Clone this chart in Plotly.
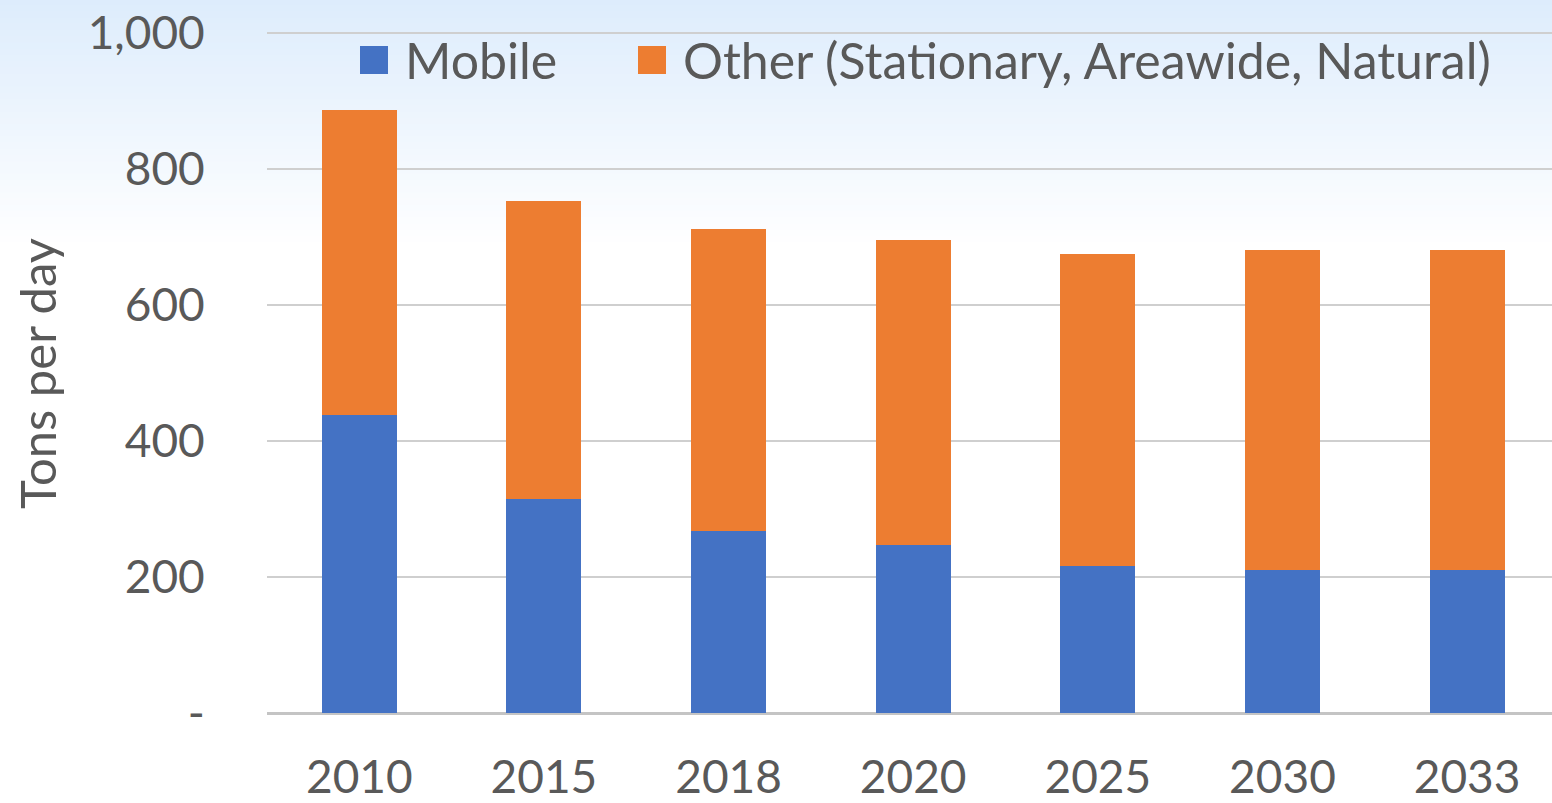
import plotly.graph_objects as go

years = ["2010", "2015", "2018", "2020", "2025", "2030", "2033"]
mobile = [438, 315, 268, 247, 216, 211, 210]
other = [449, 438, 444, 449, 460, 470, 471]
series_names = ["Mobile", "Other (Stationary, Areawide, Natural)"]
series_colors = ["#4472C4", "#ED7D31"]
y_tickvals = [0, 200, 400, 600, 800, 1000]
y_ticktext = ["-", "200", "400", "600", "800", "1,000"]

W, H = 1552, 803
ML, MR, MT, MB = 267, 0, 32, 90
TXT = "#595959"
FONT = "Lato"
plot_h = H - MT - MB
plot_w = W - ML - MR


def px_x(p):
    return (p - ML) / plot_w


def px_y(p):
    return (H - MB - p) / plot_h


fig = go.Figure()
fig.add_trace(go.Bar(x=years, y=mobile, name=series_names[0], showlegend=False,
                     marker=dict(color=series_colors[0], line=dict(width=0))))
fig.add_trace(go.Bar(x=years, y=other, name=series_names[1], showlegend=False,
                     marker=dict(color=series_colors[1], line=dict(width=0))))

# background gradient (light blue at top fading to white)
shapes = []
n = 40
top_px, bot_px = 0, 250
c0 = (221, 236, 252)
for i in range(n):
    p0 = top_px + (bot_px - top_px) * i / n
    p1 = top_px + (bot_px - top_px) * (i + 1) / n
    t = (i + 0.5) / n
    col = tuple(round(c0[k] + (255 - c0[k]) * t) for k in range(3))
    shapes.append(dict(type="rect", xref="paper", yref="paper",
                       x0=px_x(-2), x1=px_x(W + 2),
                       y0=px_y(p1), y1=px_y(p0) + 0.002,
                       fillcolor="rgb(%d,%d,%d)" % col, line=dict(width=0), layer="below"))

# manual legend (swatches + labels)
legend_swatch_px = [360, 638]
legend_text_px = [403, 681]
annotations = []
for name, col, sx, tx in zip(series_names, series_colors, legend_swatch_px, legend_text_px):
    shapes.append(dict(type="rect", xref="paper", yref="paper",
                       x0=px_x(sx), x1=px_x(sx + 28), y0=px_y(74), y1=px_y(46),
                       fillcolor=col, line=dict(width=0), layer="above"))
    annotations.append(dict(text=name, xref="paper", yref="paper", x=px_x(tx), y=px_y(60),
                            xanchor="left", yanchor="middle", showarrow=False,
                            font=dict(size=50, color=TXT, family=FONT)))

annotations.append(dict(text="Tons per day", xref="paper", yref="paper",
                        x=px_x(37), y=px_y(374),
                        textangle=-90, showarrow=False, xanchor="center", yanchor="middle",
                        font=dict(size=49, color=TXT, family=FONT)))

fig.update_layout(
    width=W, height=H,
    margin=dict(l=ML, r=MR, t=MT, b=MB, autoexpand=False),
    barmode="stack", bargap=0.594,
    paper_bgcolor="white", plot_bgcolor="rgba(0,0,0,0)",
    shapes=shapes,
    annotations=annotations,
    showlegend=False,
    font=dict(family=FONT, color=TXT),
    xaxis=dict(range=[-0.5, 6.46], showgrid=False, ticks="outside", ticklen=24,
               tickcolor="rgba(0,0,0,0)",
               tickfont=dict(size=46, color=TXT, family=FONT), showline=False,
               automargin=False),
    yaxis=dict(range=[0, 1002], tickvals=y_tickvals, ticktext=y_ticktext,
               showgrid=True, gridcolor="#CFCFCF", gridwidth=2,
               zeroline=True, zerolinecolor="#C4C4C4", zerolinewidth=2.5,
               ticks="outside", ticklen=52, tickcolor="rgba(0,0,0,0)",
               tickfont=dict(size=46, color=TXT, family=FONT), automargin=False),
)

fig.write_html("out.html", config={"displayModeBar": False},
               post_script="document.body.style.margin='0';document.body.style.overflow='hidden';")
